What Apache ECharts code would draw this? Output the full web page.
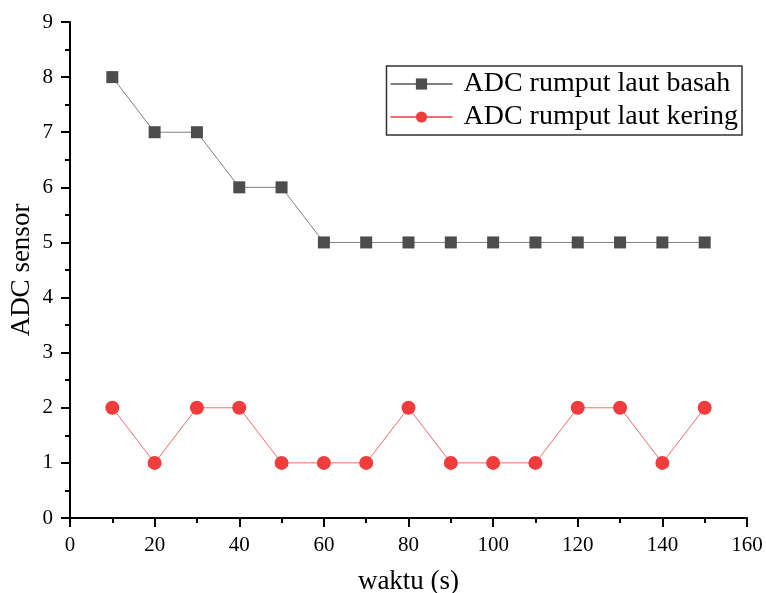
<!DOCTYPE html>
<html><head><meta charset="utf-8">
<script src="https://cdn.jsdelivr.net/npm/echarts@6/dist/echarts.min.js"></script>
<style>html,body{margin:0;padding:0;background:#fff}#c{width:766px;height:593px}</style>
</head><body><div id="c"></div>
<script>
const times = [10,20,30,40,50,60,70,80,90,100,110,120,130,140,150];
const basah = [8,7,7,6,6,5,5,5,5,5,5,5,5,5,5];
const kering = [2,1,2,2,1,1,1,2,1,1,1,2,2,1,2];
const nameBasah = 'ADC rumput laut basah';
const nameKering = 'ADC rumput laut kering';
const font = '"Liberation Serif", "Times New Roman", serif';
const chart = echarts.init(document.getElementById('c'), null, {renderer:'canvas'});
const axisCommon = {
  axisLine:{show:true,onZero:false,lineStyle:{color:'#000',width:2}},
  axisTick:{show:true,inside:false,length:9,lineStyle:{color:'#000',width:2}},
  minorTick:{show:true,splitNumber:2,length:5,lineStyle:{color:'#000',width:2}},
  splitLine:{show:false},
  nameMoveOverlap:false,
  nameTextStyle:{color:'#000',fontFamily:font,fontSize:27}
};
chart.setOption({
  animation:false,
  backgroundColor:'#fff',
  grid:{left:70,right:19,top:22,bottom:75,containLabel:false,outerBoundsMode:'none'},
  legend:{
    right:24, top:66, orient:'vertical',
    backgroundColor:'#fff', borderColor:'#333', borderWidth:1.5, borderRadius:0,
    padding:[4,4,4,3], itemGap:5, itemWidth:62, itemHeight:14,
    textStyle:{color:'#000',fontFamily:font,fontSize:28,padding:[0,0,0,6]},
    data:[nameBasah,nameKering]
  },
  xAxis:Object.assign({}, axisCommon, {
    type:'value', min:0, max:160, interval:20,
    axisLabel:{color:'#000',fontFamily:font,fontSize:21,margin:17},
    name:'waktu (s)', nameLocation:'middle', nameGap:50
  }),
  yAxis:Object.assign({}, axisCommon, {
    type:'value', min:0, max:9, interval:1,
    axisLabel:{color:'#000',fontFamily:font,fontSize:21,margin:17},
    name:'ADC sensor', nameLocation:'middle', nameGap:35, nameRotate:90
  }),
  series:[
    {name:nameBasah,type:'line',data:times.map((t,i)=>[t,basah[i]]),
     symbol:'rect',symbolSize:12,
     lineStyle:{color:'#808080',width:1},
     itemStyle:{color:'#4d4d4d'}},
    {name:nameKering,type:'line',data:times.map((t,i)=>[t,kering[i]]),
     symbol:'circle',symbolSize:14,
     lineStyle:{color:'#f26b6b',width:1},
     itemStyle:{color:'#f03c3c'}}
  ]
});
</script></body></html>
